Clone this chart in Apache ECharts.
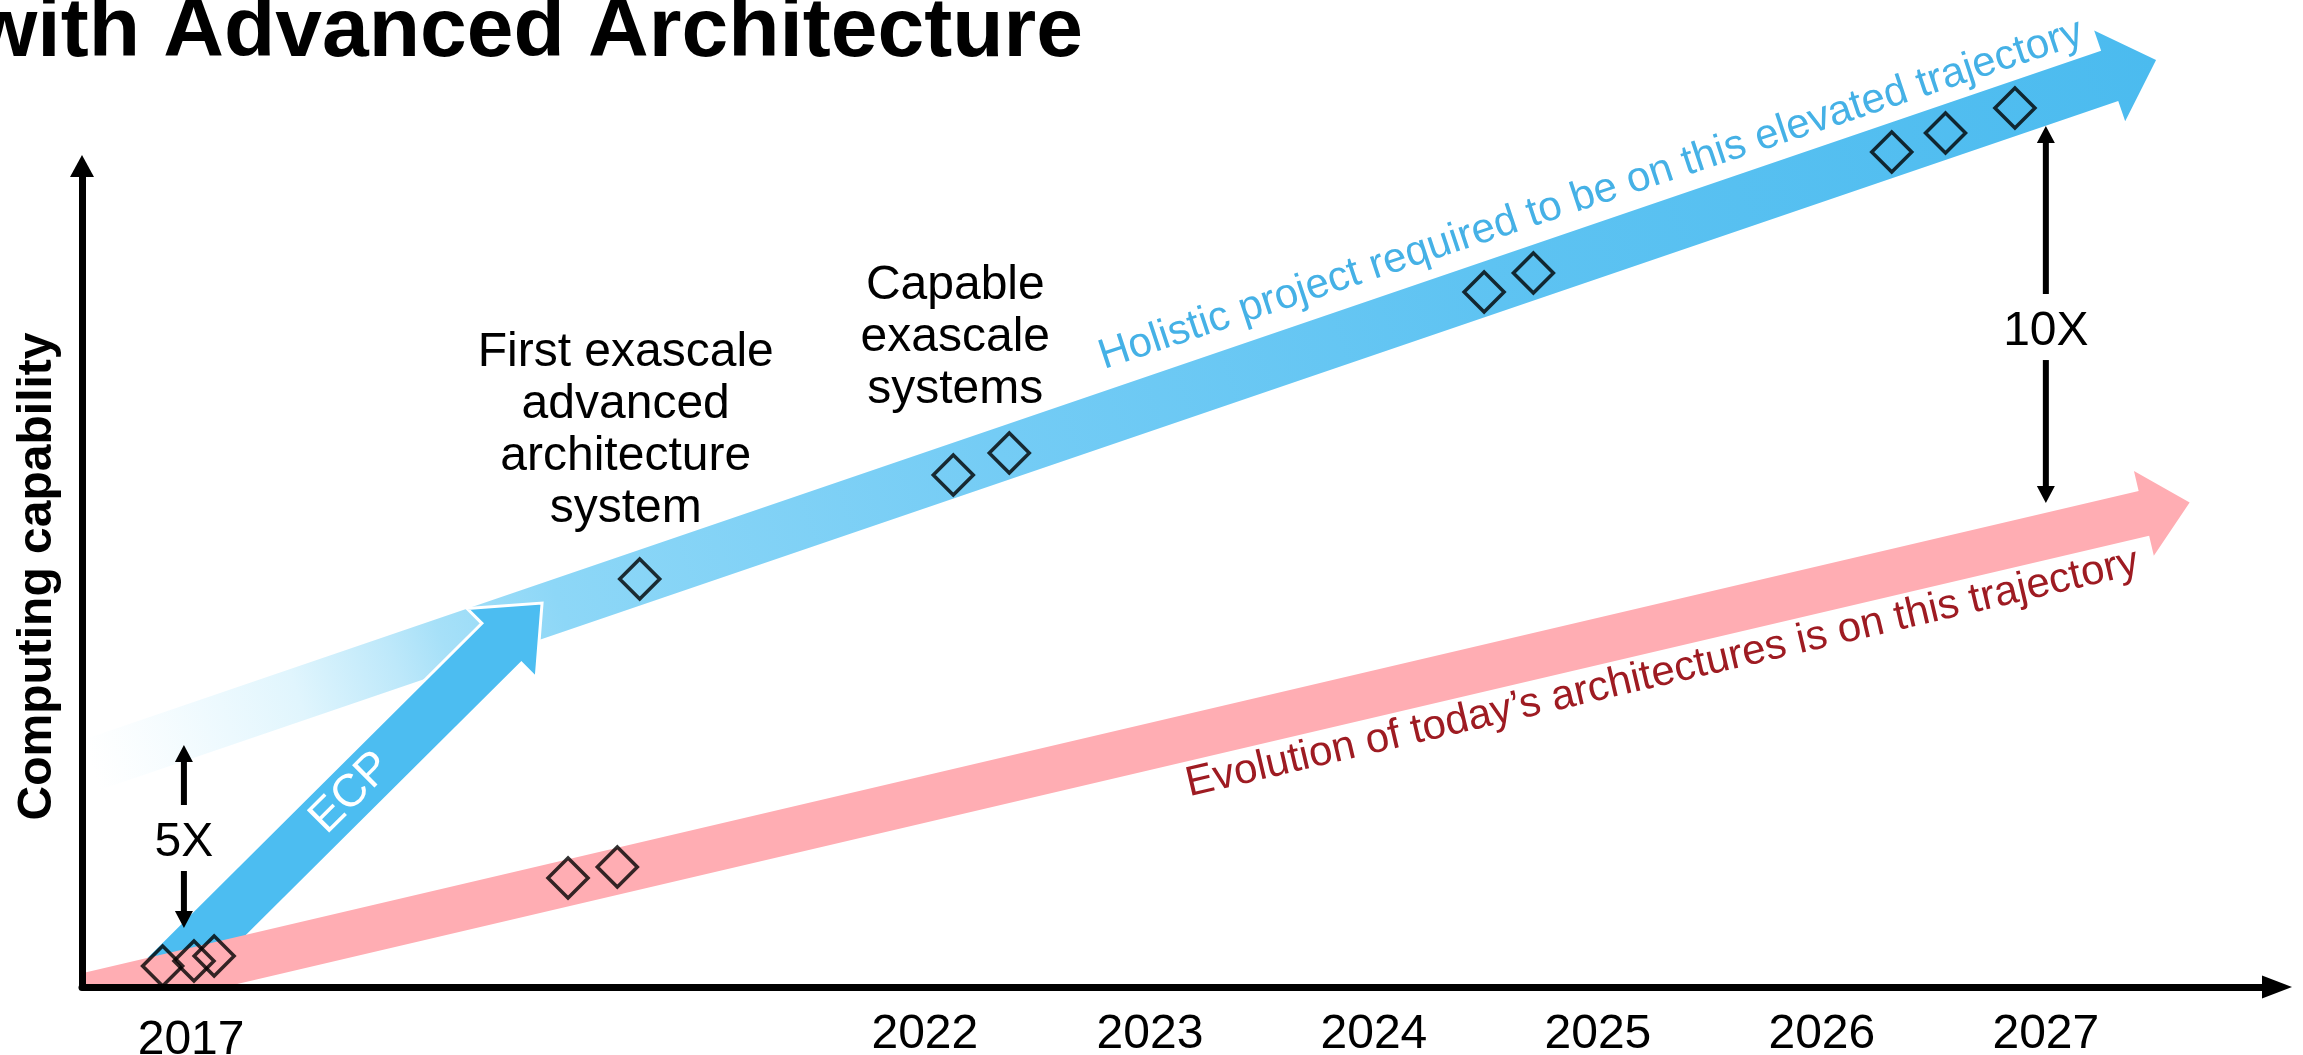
<!DOCTYPE html>
<html>
<head>
<meta charset="utf-8">
<script src="https://cdn.jsdelivr.net/npm/echarts@6/dist/echarts.min.js"></script>
<style>
html,body{margin:0;padding:0;background:#fff;}
#c{width:2303px;height:1055px;}
</style>
</head>
<body>
<div id="c"></div>
<script>
// ---------- data ----------
const titleText = 'with Advanced Architecture';
const yAxisName = 'Computing capability';
const tickLabels = ['2017', '2022', '2023', '2024', '2025', '2026', '2027'];
const tickPositions = [0.487, 3.763, 4.768, 5.768, 6.768, 7.768, 8.768];

// trajectories: [startX, startY, tipX, tipY]
const holisticTrajectory = [0.04, 27.04, 9.26, 112.9];
const todayTrajectory = [-0.1, -1.83, 9.41, 59.0];
const ecpJump = [0.348, 0.49, 2.054, 46.77];

const holisticLabel = 'Holistic project required to be on this elevated trajectory';
const todayLabel = 'Evolution of today\u2019s architectures is on this trajectory';
const ecpLabel = 'ECP';

// systems (diamonds)
const holisticSystems = [[2.49, 49.70], [3.89, 62.36], [4.14, 65.04], [6.26, 84.65], [6.48, 86.97], [8.08, 101.71], [8.32, 104.02], [8.63, 107.06]];
const todaySystems = [[0.36, 2.56], [0.50, 3.17], [0.59, 3.78], [2.17, 13.28], [2.39, 14.62]];
const milestoneNotes = ['First exascale\nadvanced\narchitecture\nsystem', 'Capable\nexascale\nsystems'];

// gap arrows
const gapLabels = ['5X', '10X'];
const gapX = [0.455, 8.768];
const gapUpper = [29.48, 104.87];
const gapLower = [7.19, 58.95];
const gapTextY = [17.78, 80.02];

// ---------- rendering ----------
const FONT = '"Liberation Sans", Arial, Helvetica, sans-serif';

function makeArrowRender(o) {
  return function (params, api) {
    const p1 = api.coord([api.value(0), api.value(1)]);
    const p2 = api.coord([api.value(2), api.value(3)]);
    const dx = p2[0] - p1[0], dy = p2[1] - p1[1];
    const len = Math.hypot(dx, dy);
    const ux = dx / len, uy = dy / len;
    const nx = uy, ny = -ux;
    const bx = p2[0] - ux * o.headL, by = p2[1] - uy * o.headL;
    const s = o.shaftW / 2, h = o.headW / 2;
    const pts = [
      [p1[0] + nx * s, p1[1] + ny * s],
      [bx + nx * s, by + ny * s],
      [bx + nx * h, by + ny * h],
      [p2[0], p2[1]],
      [bx - nx * h, by - ny * h],
      [bx - nx * s, by - ny * s],
      [p1[0] - nx * s, p1[1] - ny * s]
    ];
    let fill = o.color;
    if (o.stops) {
      fill = new echarts.graphic.LinearGradient(p1[0], p1[1], p2[0], p2[1], o.stops, true);
    }
    const children = [{
      type: 'polygon',
      shape: { points: pts },
      style: { fill: fill, stroke: o.stroke || null, lineWidth: o.strokeW || 0, lineJoin: 'miter' }
    }];
    if (o.text) {
      const tx = p1[0] + dx * o.t + nx * o.d;
      const ty = p1[1] + dy * o.t + ny * o.d;
      children.push({
        type: 'text',
        x: tx, y: ty,
        rotation: Math.atan2(-dy, dx) + (o.extraRot || 0),
        style: { text: o.text, fill: o.textColor, font: o.font, align: 'center', verticalAlign: 'middle' }
      });
    }
    return { type: 'group', children: children };
  };
}

function renderGap(params, api) {
  const top = api.coord([api.value(0), api.value(1)]);
  const bot = api.coord([api.value(0), api.value(2)]);
  const mid = api.coord([api.value(0), api.value(3)]);
  const x = top[0], hl = 17, hw = 9;
  return {
    type: 'group',
    children: [
      { type: 'line', shape: { x1: x, y1: top[1] + hl - 1, x2: x, y2: mid[1] - 36 }, style: { stroke: '#000', lineWidth: 6 } },
      { type: 'polygon', shape: { points: [[x, top[1]], [x - hw, top[1] + hl], [x + hw, top[1] + hl]] }, style: { fill: '#000' } },
      { type: 'line', shape: { x1: x, y1: mid[1] + 30, x2: x, y2: bot[1] - hl + 1 }, style: { stroke: '#000', lineWidth: 6 } },
      { type: 'polygon', shape: { points: [[x, bot[1]], [x - hw, bot[1] - hl], [x + hw, bot[1] - hl]] }, style: { fill: '#000' } },
      { type: 'text', x: x, y: mid[1] + 2, style: { text: gapLabels[params.dataIndex], font: '48px ' + FONT, fill: '#000', align: 'center', verticalAlign: 'middle' } }
    ]
  };
}

// note placement relative to its diamond (pixels)
const noteOffsets = [[-14, -44], [2, -59]];
function renderNote(params, api) {
  const c = api.coord([api.value(0), api.value(1)]);
  const off = noteOffsets[params.dataIndex];
  return {
    type: 'text',
    x: c[0] + off[0], y: c[1] + off[1],
    style: {
      text: milestoneNotes[params.dataIndex], font: '48px ' + FONT, lineHeight: 52,
      fill: '#000', align: 'center', verticalAlign: 'bottom'
    }
  };
}

const chart = echarts.init(document.getElementById('c'), null, { renderer: 'canvas' });

const option = {
  animation: false,
  backgroundColor: '#fff',
  graphic: {
    elements: [{
      type: 'text', x: -28, y: 33, z: 100,
      style: { text: titleText, font: 'bold 84px ' + FONT, fill: '#000', align: 'left', verticalAlign: 'middle' }
    }]
  },
  grid: { left: 82, right: 26, top: 166, bottom: 68, containLabel: false, outerBoundsMode: 'none' },
  xAxis: {
    type: 'value', min: 0, max: 9.8, z: 10,
    axisLine: { show: true, lineStyle: { color: '#000', width: 7 }, symbol: ['none', 'triangle'], symbolSize: [23, 30] },
    axisTick: { show: false },
    splitLine: { show: false },
    axisLabel: {
      customValues: tickPositions,
      formatter: function (v) {
        let best = -1, bd = 1e9;
        tickPositions.forEach(function (p, i) { const d = Math.abs(p - v); if (d < bd) { bd = d; best = i; } });
        if (bd >= 0.01) return '';
        return best === 0 ? '{low|' + tickLabels[best] + '}' : tickLabels[best];
      },
      fontSize: 48, color: '#000', fontFamily: FONT, margin: 24,
      rich: { low: { fontSize: 48, color: '#000', fontFamily: FONT, padding: [6, 0, 0, 0] } }
    }
  },
  yAxis: {
    type: 'value', min: 0, max: 100, z: 10,
    name: yAxisName, nameLocation: 'middle', nameRotate: 90, nameGap: 20,
    nameTextStyle: { fontSize: 48, fontWeight: 'bold', color: '#000', fontFamily: FONT },
    axisLine: { show: true, lineStyle: { color: '#000', width: 7 }, symbol: ['none', 'triangle'], symbolSize: [24, 22] },
    axisTick: { show: false },
    splitLine: { show: false },
    axisLabel: { show: false }
  },
  series: [
    {
      type: 'custom', name: 'Holistic trajectory', z: 1, clip: false, silent: true,
      data: [holisticTrajectory],
      encode: { x: [0, 2], y: [1, 3] },
      renderItem: makeArrowRender({
        shaftW: 53, headW: 96, headL: 49,
        stops: [
          { offset: 0, color: 'rgba(240,250,254,0)' },
          { offset: 0.06, color: 'rgba(236,249,254,0.9)' },
          { offset: 0.10, color: '#e0f5fd' },
          { offset: 0.147, color: '#bde8fa' },
          { offset: 0.171, color: '#a6e0f8' },
          { offset: 0.227, color: '#8dd7f7' },
          { offset: 0.44, color: '#74ccf5' },
          { offset: 0.68, color: '#5ec3f2' },
          { offset: 1, color: '#4bbbef' }
        ],
        text: holisticLabel, textColor: '#45b1e6', font: '42px ' + FONT, t: 0.735, d: 55, extraRot: -0.008
      })
    },
    {
      type: 'custom', name: 'ECP', z: 2, clip: true, silent: true,
      data: [ecpJump],
      encode: { x: [0, 2], y: [1, 3] },
      renderItem: makeArrowRender({
        shaftW: 56, headW: 98, headL: 57, color: '#4cbdf1', stroke: '#fff', strokeW: 3,
        text: ecpLabel, textColor: '#fff', font: '46px ' + FONT, t: 0.50, d: 0
      })
    },
    {
      type: 'custom', name: 'Today trajectory', z: 3, clip: true, silent: true,
      data: [todayTrajectory],
      encode: { x: [0, 2], y: [1, 3] },
      renderItem: makeArrowRender({
        shaftW: 46, headW: 87, headL: 47, color: '#ffadb3',
        text: todayLabel, textColor: '#9e1b22', font: '42px ' + FONT, t: 0.7475, d: -46
      })
    },
    {
      type: 'custom', name: 'Gaps', z: 4, clip: false, silent: true,
      data: gapLabels.map(function (_, i) { return [gapX[i], gapUpper[i], gapLower[i], gapTextY[i]]; }),
      encode: { x: 0, y: [1, 2, 3] },
      renderItem: renderGap
    },
    {
      type: 'scatter', name: 'Holistic systems', z: 6, clip: false, silent: true,
      symbol: 'diamond', symbolSize: 40,
      itemStyle: { color: 'rgba(0,0,0,0)', borderColor: '#000', borderWidth: 3.5 },
      data: holisticSystems
    },
    {
      type: 'scatter', name: 'Today systems', z: 6, clip: false, silent: true,
      symbol: 'diamond', symbolSize: 40,
      itemStyle: { color: 'rgba(0,0,0,0)', borderColor: '#000', borderWidth: 3.5 },
      data: todaySystems
    },
    {
      type: 'custom', name: 'Milestones', z: 7, clip: false, silent: true,
      data: milestoneNotes.map(function (_, i) { return holisticSystems[i]; }),
      encode: { x: 0, y: 1 },
      renderItem: renderNote
    }
  ]
};
chart.setOption(option);
</script>
</body>
</html>
